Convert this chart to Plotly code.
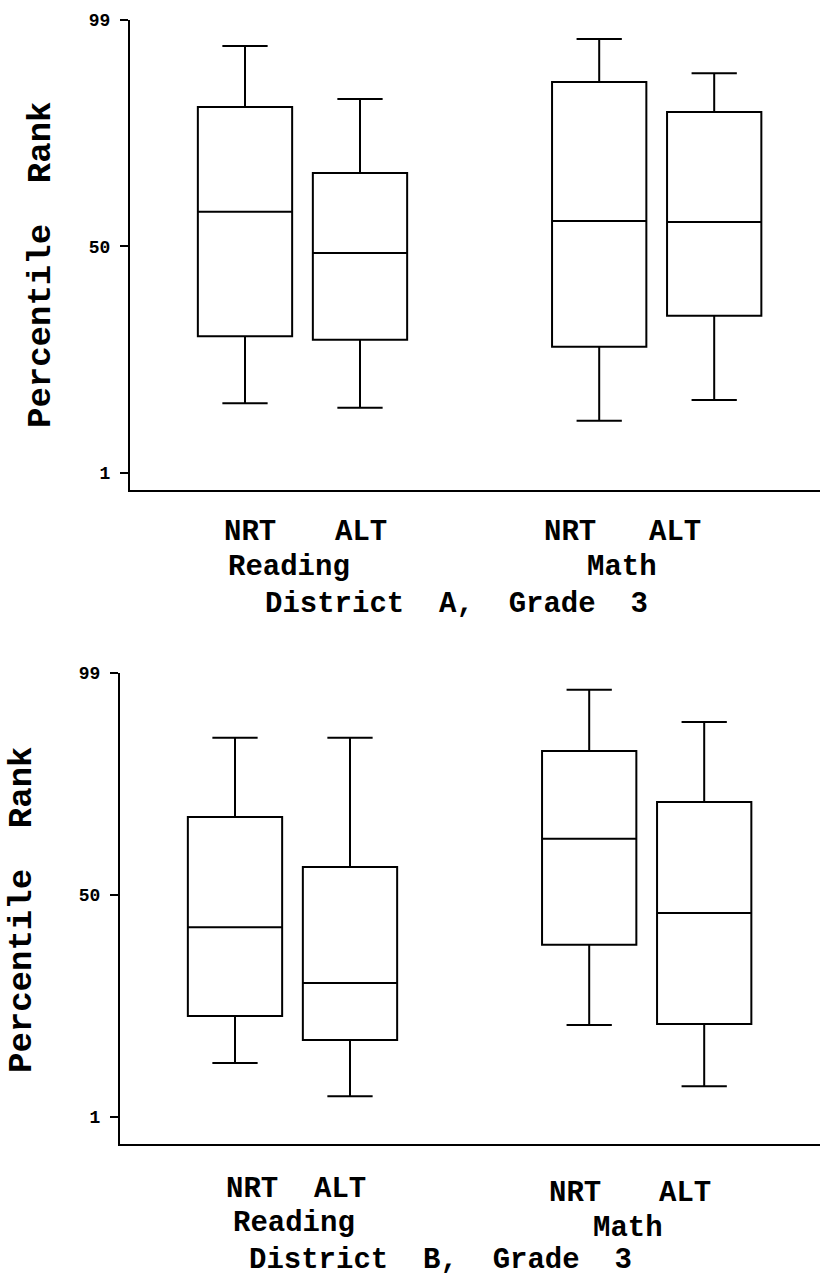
import plotly.graph_objects as go

# ---------------- data ----------------
tests = ["NRT", "ALT", "NRT", "ALT"]
subjects = ["Reading", "Math"]
titles = ["District  A,  Grade  3", "District  B,  Grade  3"]
y_ticks = [1, 50, 99]
y_title = "Percentile  Rank"

# District A, Grade 3  (Reading NRT, Reading ALT, Math NRT, Math ALT)
a_low = [16.1, 15.1, 12.3, 16.8]
a_q1 = [30.6, 29.8, 28.3, 35.0]
a_med = [57.5, 48.6, 55.5, 55.3]
a_q3 = [80.2, 65.9, 85.6, 79.1]
a_high = [93.4, 81.9, 94.9, 87.5]

# District B, Grade 3
b_low = [12.9, 5.6, 21.3, 7.8]
b_q1 = [23.3, 18.0, 39.0, 21.5]
b_med = [42.9, 30.6, 62.4, 46.0]
b_q3 = [67.2, 56.2, 81.8, 70.5]
b_high = [84.7, 84.7, 95.3, 88.2]

# ---------------- layout constants ----------------
W, H = 820, 1282
slots = [1, 2, 4.08, 5.08]
FONT = "Liberation Mono, Courier New, monospace"


def px(x):
    return x / W


def py(y):
    return 1 - y / H


fig = go.Figure()

for (low, q1, med, q3, high, xa, ya) in [
    (a_low, a_q1, a_med, a_q3, a_high, "x", "y"),
    (b_low, b_q1, b_med, b_q3, b_high, "x2", "y2"),
]:
    fig.add_trace(go.Box(
        x=slots, q1=q1, median=med, q3=q3, lowerfence=low, upperfence=high,
        width=0.82, whiskerwidth=0.48, fillcolor="white",
        line=dict(color="black", width=2), boxpoints=False,
        showlegend=False, xaxis=xa, yaxis=ya, hoverinfo="skip",
    ))

xcommon = dict(showline=True, linecolor="black", linewidth=2, showgrid=False,
               zeroline=False, showticklabels=False, ticks="", fixedrange=True,
               automargin=False)
ycommon = dict(showline=True, linecolor="black", linewidth=2, showgrid=False,
               zeroline=False, tickvals=y_ticks, ticks="outside", ticklen=8,
               tickwidth=2, tickcolor="black", ticklabelstandoff=6,
               automargin=False, fixedrange=True,
               tickfont=dict(family=FONT, size=18, color="black", weight="bold"))

fig.update_layout(
    width=W, height=H, margin=dict(l=0, r=0, t=0, b=0, autoexpand=False),
    paper_bgcolor="white", plot_bgcolor="white",
    xaxis=dict(domain=[px(130), 1], range=[0, 6.0], anchor="y", **xcommon),
    yaxis=dict(domain=[py(490), py(20)], range=[-2.68, 99], anchor="x", **ycommon),
    xaxis2=dict(domain=[px(120), 1], range=[0, 6.087], anchor="y2", **xcommon),
    yaxis2=dict(domain=[py(1144), py(673)], range=[-4.96, 99], anchor="x2", **ycommon),
)

nb = lambda s: s.replace(" ", "\u00a0")
label_font = dict(family=FONT, size=29, color="black", weight="bold")
title_font = dict(family=FONT, size=34, color="black", weight="bold")

annos = []
# text positions (pixel centers) for each panel
panels = [
    dict(test_x=[250, 361, 570, 675], test_y=[532, 532, 532, 532],
         subj_x=[289, 622], subj_y=[568, 568], title_x=456, title_y=604,
         ytitle=(41, 265), title=titles[0]),
    dict(test_x=[252, 340, 575, 685], test_y=[1189, 1189, 1193, 1193],
         subj_x=[294, 628], subj_y=[1223, 1228], title_x=440, title_y=1260,
         ytitle=(22, 910), title=titles[1]),
]
for p in panels:
    for t, x, y in zip(tests, p["test_x"], p["test_y"]):
        annos.append(dict(text=t, x=px(x), y=py(y), xref="paper", yref="paper",
                          showarrow=False, font=label_font, xanchor="center", yanchor="middle"))
    for s, x, y in zip(subjects, p["subj_x"], p["subj_y"]):
        annos.append(dict(text=s, x=px(x), y=py(y), xref="paper", yref="paper",
                          showarrow=False, font=label_font, xanchor="center", yanchor="middle"))
    annos.append(dict(text=nb(p["title"]), x=px(p["title_x"]), y=py(p["title_y"]),
                      xref="paper", yref="paper", showarrow=False, font=label_font,
                      xanchor="center", yanchor="middle"))
    annos.append(dict(text=nb(y_title), x=px(p["ytitle"][0]), y=py(p["ytitle"][1]),
                      xref="paper", yref="paper", showarrow=False, font=title_font,
                      textangle=-90, xanchor="center", yanchor="middle"))

fig.update_layout(annotations=annos)
fig.write_html("out.html", config={"displayModeBar": False},
               post_script="document.body.style.margin='0';document.body.style.overflow='hidden';")
